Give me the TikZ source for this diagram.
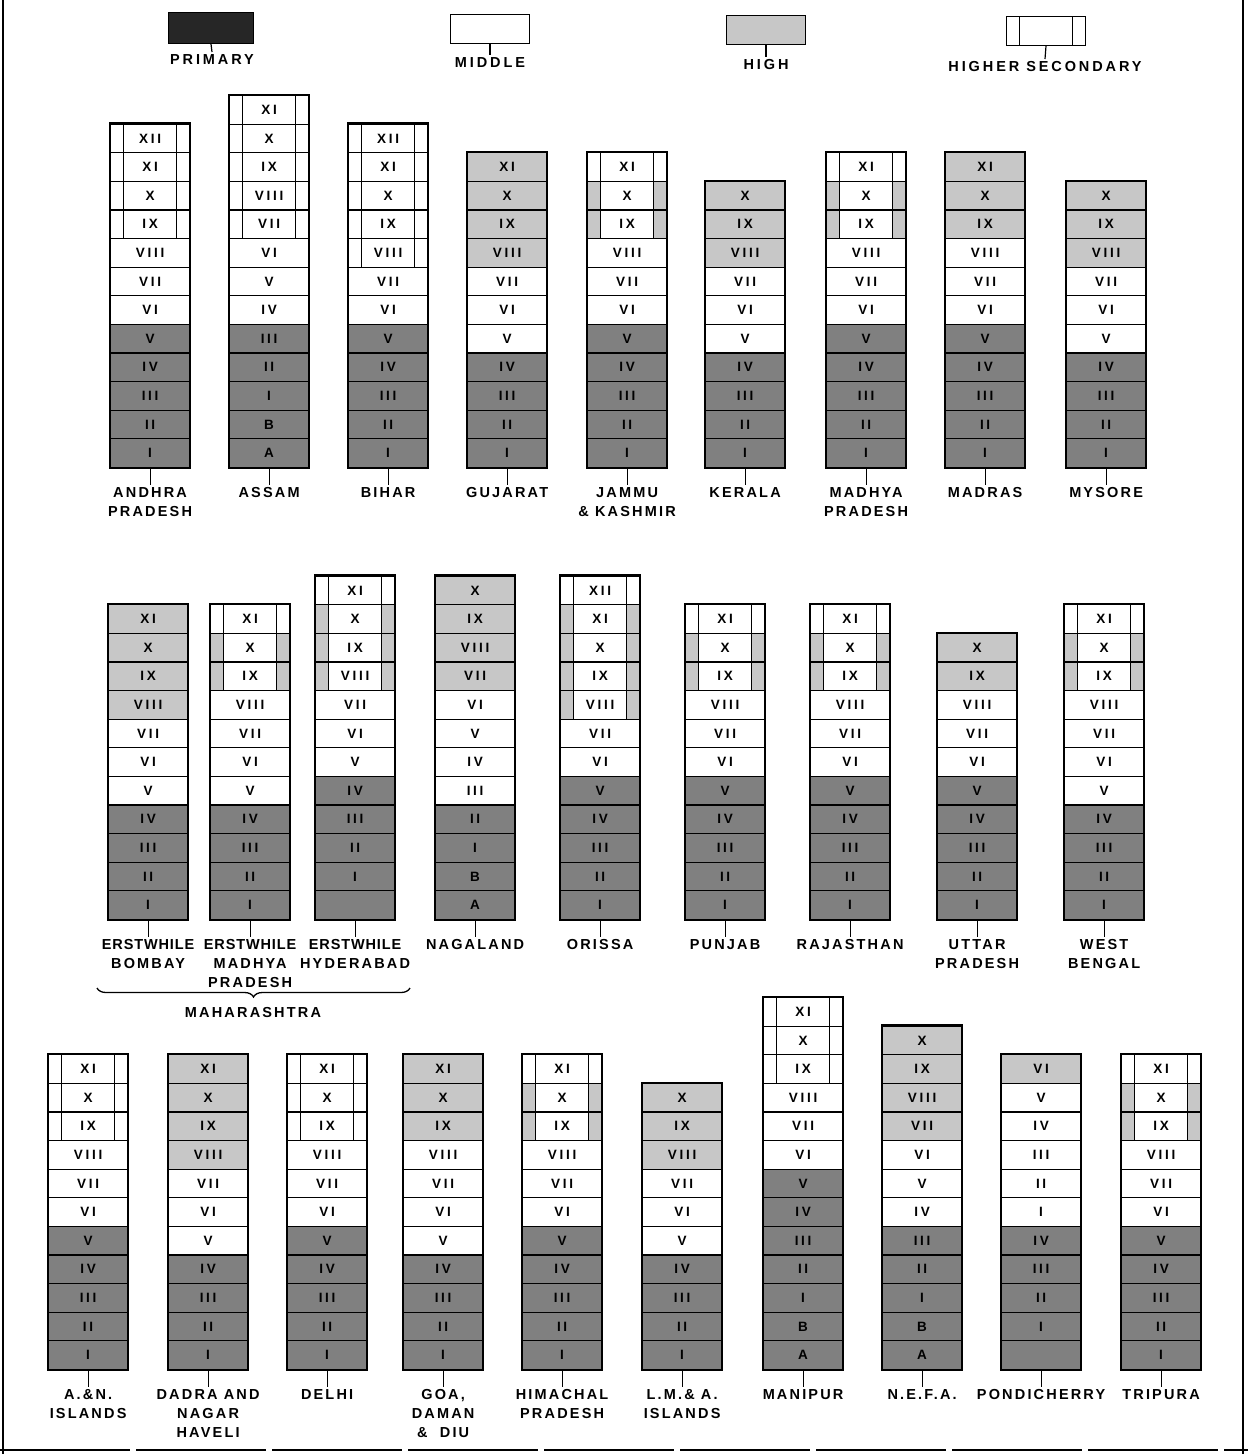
\documentclass[tikz,border=0pt]{standalone}
\usepackage{fontspec}
\setmainfont{Liberation Sans}
\newfontfamily\cellfam[LetterSpace=20]{Liberation Sans}
\newfontfamily\labfam[LetterSpace=15]{Liberation Sans}
\newfontfamily\legfam[LetterSpace=20]{Liberation Sans}
\newcommand\cellfont{\cellfam\bfseries\fontsize{13.5}{15}\selectfont}
\newcommand\labfont{\labfam\bfseries\fontsize{14.5}{19}\selectfont}
\newcommand\legfont{\legfam\bfseries\fontsize{14.5}{18}\selectfont}
\newcommand\tight{\addfontfeature{LetterSpace=6}}
\usetikzlibrary{decorations.pathreplacing}
\newcommand\hsbars[1]{%
 \fill[#1] (path picture bounding box.south west) rectangle ([xshift=13pt]path picture bounding box.north west);
 \fill[#1] ([xshift=-13pt]path picture bounding box.south east) rectangle (path picture bounding box.north east);
 \draw[line width=1.6pt] ([xshift=13pt]path picture bounding box.south west) -- ([xshift=13pt]path picture bounding box.north west);
 \draw[line width=1.6pt] ([xshift=-13pt]path picture bounding box.south east) -- ([xshift=-13pt]path picture bounding box.north east);}
\tikzset{
 cellbase/.style={draw=black, line width=1.2pt, minimum width=79pt, minimum height=28.6pt, inner sep=0pt, font=\cellfont, anchor=south west},
 cP/.style={cellbase, fill=black!50},
 cH/.style={cellbase, fill=black!22},
 cM/.style={cellbase, fill=white},
 cS/.style={cellbase, fill=white, path picture={\hsbars{white}}},
 cSH/.style={cellbase, fill=white, path picture={\hsbars{black!22}}},
 lab/.style={font=\labfont, align=center, inner sep=2pt},
 leglab/.style={font=\legfont, align=center, inner sep=2pt},
 tick/.style={line width=1.2pt},
}
\newcommand\stcol[5]{%
 \foreach \ty/\nm [count=\k from 0] in {#4}{
   \node[\ty] (c-#1-\k) at (#2, {#3-\k*28.6}) {\nm};
   \xdef\lastk{\k}
 }
 \draw[line width=2.4pt] (c-#1-0.south west) rectangle (c-#1-\lastk.north east);
 \path (c-#1-0.south) ++(0,17) coordinate (t-#1);
 \node[lab, anchor=north] (l-#1) at (t-#1) {#5};
 \draw[tick] (c-#1-0.south) -- (l-#1.north);
}
\begin{document}
\begin{tikzpicture}[x=1pt,y=-1pt]
\useasboundingbox (0,0) rectangle (1248,1454);
% frame
\draw[line width=2pt] (3,0) -- (3,1454);
\draw[line width=1.4pt] (1243,0) -- (1243,1454);
\draw[line width=1.4pt, dash pattern=on 130pt off 6pt] (0,1450) -- (1248,1450);
% legend
\node[cP, fill=black!85, minimum width=85pt, minimum height=31pt, anchor=center] (lgP) at (211,28) {};
\node[leglab, anchor=north] (lgPl) at (212,52) {PRIMARY};
\draw[tick] (lgP.south) -- (lgPl.north);
\node[cM, anchor=center] (lgM) at (490,29) {};
\node[leglab, anchor=north] (lgMl) at (490,55) {MIDDLE};
\draw[tick] (lgM.south) -- (lgMl.north);
\node[cH, anchor=center] (lgH) at (766,30) {};
\node[leglab, anchor=north] (lgHl) at (766,57) {HIGH};
\draw[tick] (lgH.south) -- (lgHl.north);
\node[cS, anchor=center] (lgS) at (1046,31) {};
\node[leglab, anchor=north] (lgSl) at (1045,59) {HIGHER SECONDARY};
\draw[tick] (lgS.south) -- (lgSl.north);
% row 1
\stcol{AP}{110}{468}{cP/I,cP/II,cP/III,cP/IV,cP/V,cM/VI,cM/VII,cM/VIII,cS/IX,cS/X,cS/XI,cS/XII}{ANDHRA\\PRADESH}
\stcol{AS}{229}{468}{cP/A,cP/B,cP/I,cP/II,cP/III,cM/IV,cM/V,cM/VI,cS/VII,cS/VIII,cS/IX,cS/X,cS/XI}{ASSAM}
\stcol{BI}{348}{468}{cP/I,cP/II,cP/III,cP/IV,cP/V,cM/VI,cM/VII,cS/VIII,cS/IX,cS/X,cS/XI,cS/XII}{BIHAR}
\stcol{GU}{467}{468}{cP/I,cP/II,cP/III,cP/IV,cM/V,cM/VI,cM/VII,cH/VIII,cH/IX,cH/X,cH/XI}{GUJARAT}
\stcol{JK}{587}{468}{cP/I,cP/II,cP/III,cP/IV,cP/V,cM/VI,cM/VII,cM/VIII,cSH/IX,cSH/X,cS/XI}{JAMMU\\\& KASHMIR}
\stcol{KE}{705}{468}{cP/I,cP/II,cP/III,cP/IV,cM/V,cM/VI,cM/VII,cH/VIII,cH/IX,cH/X}{KERALA}
\stcol{MP}{826}{468}{cP/I,cP/II,cP/III,cP/IV,cP/V,cM/VI,cM/VII,cM/VIII,cSH/IX,cSH/X,cS/XI}{MADHYA\\PRADESH}
\stcol{MA}{945}{468}{cP/I,cP/II,cP/III,cP/IV,cP/V,cM/VI,cM/VII,cM/VIII,cH/IX,cH/X,cH/XI}{MADRAS}
\stcol{MY}{1066}{468}{cP/I,cP/II,cP/III,cP/IV,cM/V,cM/VI,cM/VII,cH/VIII,cH/IX,cH/X}{MYSORE}
% row 2
\stcol{EB}{108}{920}{cP/I,cP/II,cP/III,cP/IV,cM/V,cM/VI,cM/VII,cH/VIII,cH/IX,cH/X,cH/XI}{\tight ERSTWHILE\\BOMBAY}
\stcol{EM}{210}{920}{cP/I,cP/II,cP/III,cP/IV,cM/V,cM/VI,cM/VII,cM/VIII,cSH/IX,cSH/X,cS/XI}{\tight ERSTWHILE\\MADHYA\\PRADESH}
\stcol{EH}{315}{920}{cP/{},cP/I,cP/II,cP/III,cP/IV,cM/V,cM/VI,cM/VII,cSH/VIII,cSH/IX,cSH/X,cS/XI}{\tight ERSTWHILE\\HYDERABAD}
\stcol{NA}{435}{920}{cP/A,cP/B,cP/I,cP/II,cM/III,cM/IV,cM/V,cM/VI,cH/VII,cH/VIII,cH/IX,cH/X}{NAGALAND}
\stcol{OR}{560}{920}{cP/I,cP/II,cP/III,cP/IV,cP/V,cM/VI,cM/VII,cSH/VIII,cSH/IX,cSH/X,cSH/XI,cS/XII}{ORISSA}
\stcol{PU}{685}{920}{cP/I,cP/II,cP/III,cP/IV,cP/V,cM/VI,cM/VII,cM/VIII,cSH/IX,cSH/X,cS/XI}{PUNJAB}
\stcol{RA}{810}{920}{cP/I,cP/II,cP/III,cP/IV,cP/V,cM/VI,cM/VII,cM/VIII,cSH/IX,cSH/X,cS/XI}{RAJASTHAN}
\stcol{UP}{937}{920}{cP/I,cP/II,cP/III,cP/IV,cP/V,cM/VI,cM/VII,cM/VIII,cH/IX,cH/X}{UTTAR\\PRADESH}
\stcol{WB}{1064}{920}{cP/I,cP/II,cP/III,cP/IV,cM/V,cM/VI,cM/VII,cM/VIII,cSH/IX,cSH/X,cS/XI}{WEST\\BENGAL}
% brace
\coordinate (brL) at (97,988);
\coordinate (brR) at (410,988);
\draw[line width=1.3pt, decorate, decoration={brace, mirror, amplitude=9pt}] (brL) -- (brR);
\node[lab] (maha) at (253,1012) {MAHARASHTRA};
% row 3
\stcol{AN}{48}{1370}{cP/I,cP/II,cP/III,cP/IV,cP/V,cM/VI,cM/VII,cM/VIII,cS/IX,cS/X,cS/XI}{A.\&N.\\ISLANDS}
\stcol{DN}{168}{1370}{cP/I,cP/II,cP/III,cP/IV,cM/V,cM/VI,cM/VII,cH/VIII,cH/IX,cH/X,cH/XI}{DADRA AND\\NAGAR\\HAVELI}
\stcol{DE}{287}{1370}{cP/I,cP/II,cP/III,cP/IV,cP/V,cM/VI,cM/VII,cM/VIII,cS/IX,cS/X,cS/XI}{DELHI}
\stcol{GO}{403}{1370}{cP/I,cP/II,cP/III,cP/IV,cM/V,cM/VI,cM/VII,cM/VIII,cH/IX,cH/X,cH/XI}{GOA,\\DAMAN\\\&\ \ DIU}
\stcol{HP}{522}{1370}{cP/I,cP/II,cP/III,cP/IV,cP/V,cM/VI,cM/VII,cM/VIII,cSH/IX,cSH/X,cS/XI}{HIMACHAL\\PRADESH}
\stcol{LM}{642}{1370}{cP/I,cP/II,cP/III,cP/IV,cM/V,cM/VI,cM/VII,cH/VIII,cH/IX,cH/X}{L.M.\& A.\\ISLANDS}
\stcol{MN}{763}{1370}{cP/A,cP/B,cP/I,cP/II,cP/III,cP/IV,cP/V,cM/VI,cM/VII,cM/VIII,cS/IX,cS/X,cS/XI}{MANIPUR}
\stcol{NE}{882}{1370}{cP/A,cP/B,cP/I,cP/II,cP/III,cM/IV,cM/V,cM/VI,cH/VII,cH/VIII,cH/IX,cH/X}{N.E.F.A.}
\stcol{PO}{1001}{1370}{cP/{},cP/I,cP/II,cP/III,cP/IV,cM/I,cM/II,cM/III,cM/IV,cM/V,cH/VI}{PONDICHERRY}
\stcol{TR}{1121}{1370}{cP/I,cP/II,cP/III,cP/IV,cP/V,cM/VI,cM/VII,cM/VIII,cSH/IX,cSH/X,cS/XI}{TRIPURA}
\end{tikzpicture}
\end{document}
